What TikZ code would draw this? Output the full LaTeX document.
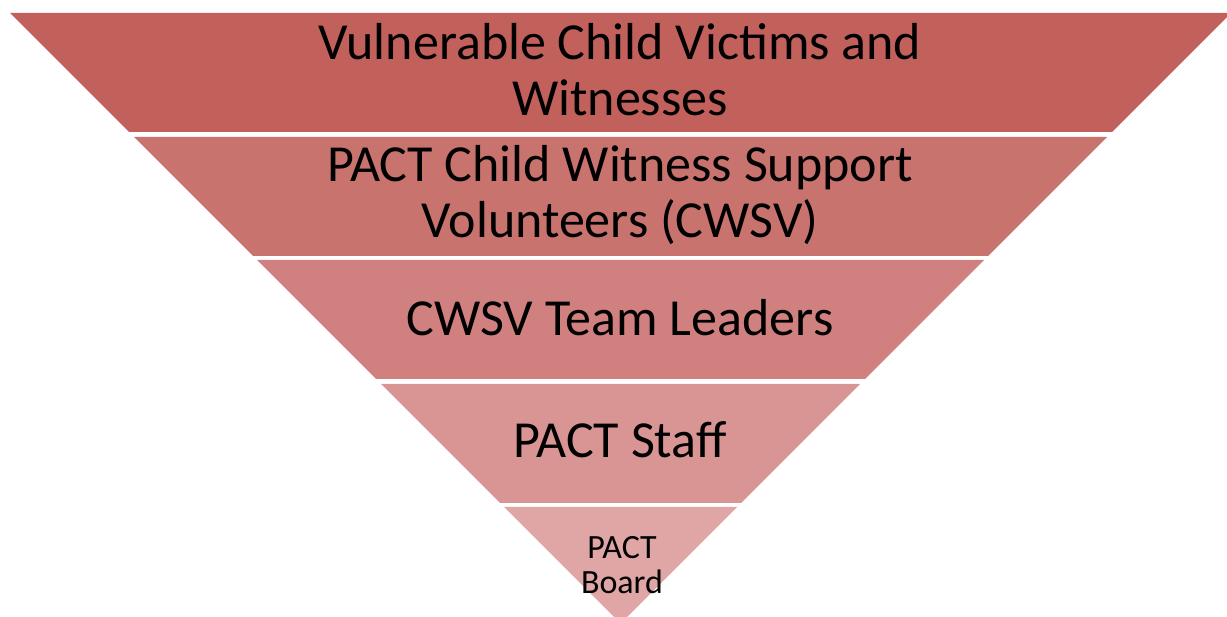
\documentclass[tikz,border=0pt]{standalone}
\usepackage{fontspec}
\setmainfont{Carlito}
\definecolor{cA}{RGB}{194,96,92}
\definecolor{cB}{RGB}{201,115,111}
\definecolor{cC}{RGB}{209,128,128}
\definecolor{cD}{RGB}{217,148,148}
\definecolor{cE}{RGB}{224,166,166}
\tikzset{
  big/.style={font=\fontsize{52}{56}\selectfont, align=center, inner sep=0pt, text=black},
  small/.style={font=\fontsize{34}{35}\selectfont, align=center, inner sep=0pt, text=black}
}
\begin{document}
\begin{tikzpicture}[x=1pt,y=-1pt]
\useasboundingbox (0,0) rectangle (1227,617);
\begin{scope}
\clip (0,0) rectangle (1227,617);
% left edge: x = 10 + (y-13); right edge: x = 1231 - (y-13)
\fill[cA] (10,13) -- (1231,13) -- (1112,132) -- (129,132) -- cycle;
\fill[cB] (134,137) -- (1107,137) -- (988,256) -- (253,256) -- cycle;
\fill[cC] (257,260) -- (984,260) -- (865,379) -- (376,379) -- cycle;
\fill[cD] (381,384) -- (860,384) -- (741,503) -- (500,503) -- cycle;
\fill[cE] (504,507) -- (737,507) -- (620.5,623.5) -- cycle;
\end{scope}
\node[big] (t1) at (620,70) {Vulnerable Child Victims and\\Witnesses};
\node[big] (t2) at (620,195) {PACT Child Witness Support\\Volunteers (CWSV)};
\node[big] (t3) at (620,318) {CWSV Team Leaders};
\node[big] (t4) at (620,440) {PACT Staff};
\node[small] (t5) at (622,565) {PACT\\Board};
\end{tikzpicture}
\end{document}
